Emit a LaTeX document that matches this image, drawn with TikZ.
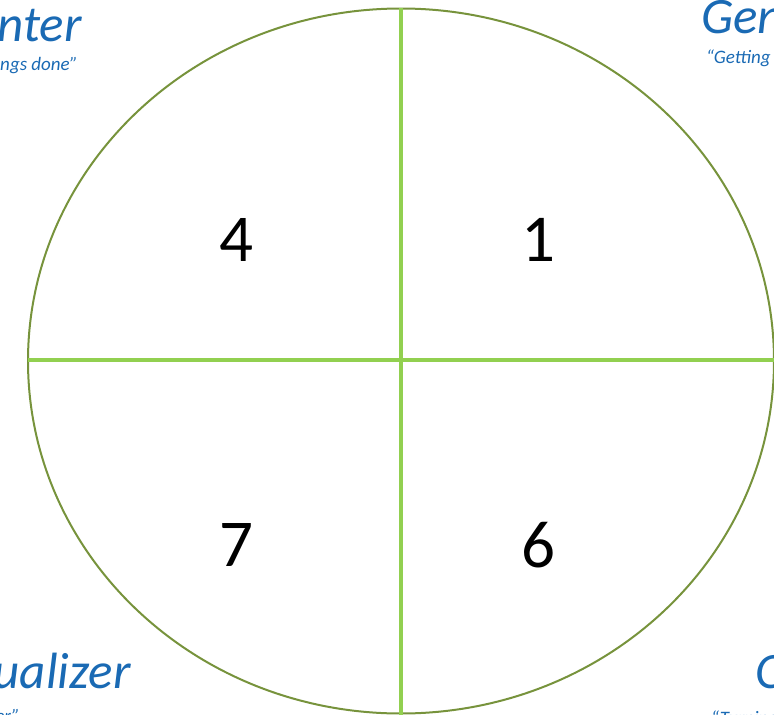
\documentclass[tikz,border=0pt]{standalone}
\usepackage{fontspec}
\setmainfont{Carlito}
\usetikzlibrary{shapes.geometric}
\definecolor{olive}{HTML}{77933C}
\definecolor{lgreen}{HTML}{92D050}
\definecolor{tblue}{HTML}{1A6AB4}
\tikzset{
  num/.style={font=\fontsize{67}{67}\selectfont, text=black, inner sep=0pt},
  title/.style={font=\fontsize{51}{51}\selectfont\itshape, text=tblue, inner sep=0pt},
  motto/.style={font=\fontsize{19}{19}\selectfont\itshape, text=tblue, inner sep=0pt},
  cross/.style={draw=lgreen, line width=4pt},
}
\begin{document}
\begin{tikzpicture}[x=1pt,y=-1pt]
\useasboundingbox (0,0) rectangle (774,715);
\clip (0,0) rectangle (774,715);
% corner labels
\node[title, anchor=base east] (tl) at (82,41) {Implementer};
\node[motto, anchor=base east] (tls) at (78,70) {“Getting things done”};
\node[title, anchor=base west] (tr) at (701,33) {Generator};
\node[motto, anchor=base west] (trs) at (706,63) {“Getting things started”};
\node[title, anchor=base east] (bl) at (131,688) {Conceptualizer};
\node[motto, anchor=base east] (bls) at (20,722) {“Putting ideas together”};
\node[title, anchor=base west] (br) at (755,688) {Optimizer};
\node[motto, anchor=base west] (brs) at (711,724) {“Turning ideas into solutions”};
% circle
\node[draw=olive, line width=2pt, ellipse, minimum width=746pt, minimum height=705pt, inner sep=0pt] (c) at (401,361) {};
\coordinate (top) at (401,8);
\coordinate (bot) at (401,715);
\coordinate (lft) at (28,360);
\coordinate (rgt) at (774,360);
\draw[cross] (top) -- (bot);
\draw[cross] (lft) -- (rgt);
% numbers
\node[num] (n4) at (236,240) {4};
\node[num] (n1) at (538,240) {1};
\node[num] (n7) at (236,545) {7};
\node[num] (n6) at (538,545) {6};
\end{tikzpicture}
\end{document}
